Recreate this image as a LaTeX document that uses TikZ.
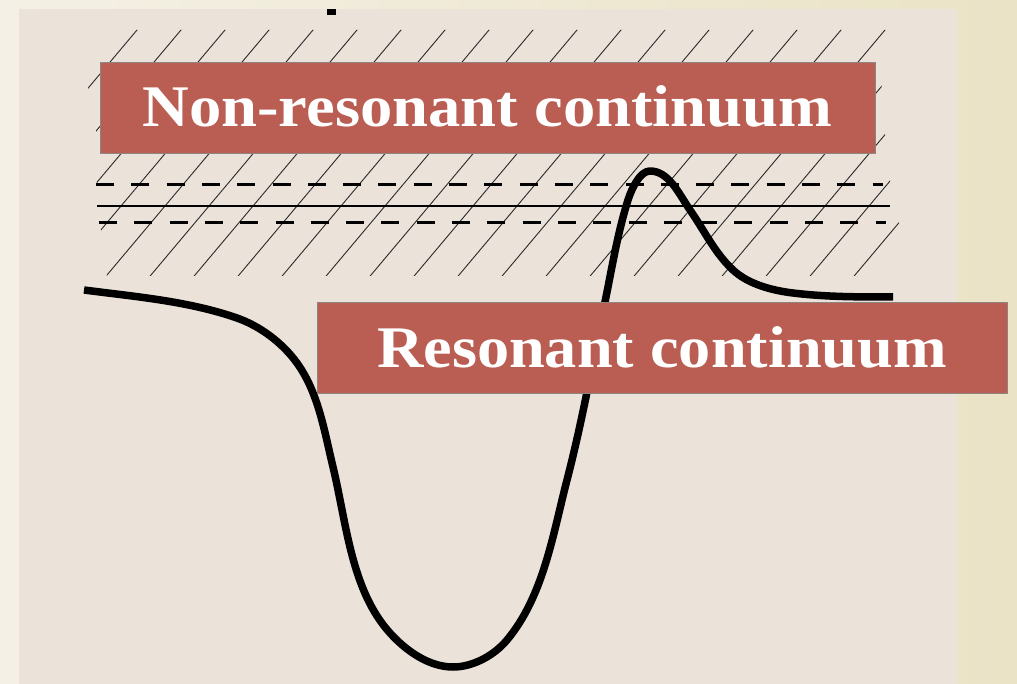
\documentclass[tikz,border=0pt]{standalone}
\usepackage{fontspec}
\setmainfont{Liberation Serif}
\usepackage{graphicx}
\definecolor{outerbg}{HTML}{F4F0E5}
\definecolor{outerright}{HTML}{EAE3C6}
\definecolor{panelbg}{HTML}{EBE2DA}
\definecolor{bannerred}{HTML}{BA5D52}
\definecolor{bannerrim}{HTML}{8E8580}
\definecolor{hatchgray}{HTML}{2A2A2A}
\tikzset{
  banner/.style={rectangle, fill=bannerred, draw=bannerrim, line width=0.8pt,
    inner xsep=0pt, inner ysep=26pt, text height=39pt, text depth=0pt,
    text=white, font=\bfseries\fontsize{59}{59}\selectfont},
  hatchline/.style={draw=hatchgray, line width=0.9pt},
  dashrule/.style={draw=black, line width=3pt, dash pattern=on 18pt off 17.3pt},
  solidrule/.style={draw=black, line width=2.5pt},
  curveline/.style={draw=black, line width=7.5pt, line join=round}
}
\begin{document}
\begin{tikzpicture}[x=1pt,y=-1pt]
\useasboundingbox (0,0) rectangle (1017,684);
% background
\shade[left color=outerbg, right color=outerright] (0,0) rectangle (1017,684);
\fill[panelbg] (19,9) rectangle (957,684);
% small mark at the top
\fill[black] (327,9) rectangle (336,15);
% hatching
\begin{scope}
  \clip (95,30) -- (888,30) -- (881,92) -- (886,145) -- (891,188) -- (899,223) -- (895,276)
        -- (107,276) -- (97,200) -- (96,130) -- (87,82) -- cycle;
  \foreach \k in {-11,...,14} {
    \draw[hatchline] ({327+44*\k-5/1.19},280) -- ({327+44*\k+206+5/1.19},25);
  }
\end{scope}
% level lines
\coordinate (dua) at (96,185);
\coordinate (dub) at (883,185);
\coordinate (sla) at (97,206);
\coordinate (slb) at (890,206);
\coordinate (dla) at (99,223);
\coordinate (dlb) at (886,223);
\draw[dashrule] (dua) -- (dub);
\draw[solidrule] (sla) -- (slb);
\draw[dashrule] (dla) -- (dlb);
% curve
\draw[curveline] (84,290)
  .. controls (136,296.8) and (188,301) .. (237,318)
  .. controls (260.5,326.3) and (282.5,343) .. (297,363)
  .. controls (318.5,393) and (324.3,431) .. (333,467)
  .. controls (346.6,523.4) and (351.1,590.1) .. (390,633)
  .. controls (406,650.8) and (429,667) .. (453,667)
  .. controls (473,667) and (494.2,655.4) .. (507,640)
  .. controls (543.5,596.1) and (552.7,535.2) .. (567,480)
  .. controls (582.3,421) and (592.8,361.8) .. (605,302)
  .. controls (612,267.7) and (617.5,233.3) .. (628,200)
  .. controls (631.6,188.6) and (640,171) .. (650,171)
  .. controls (669,171) and (679.2,194.4) .. (690,210)
  .. controls (704.3,230.5) and (714.7,253) .. (733,270)
  .. controls (748.3,284.3) and (772.2,290.5) .. (793,293)
  .. controls (825.7,297) and (860,297) .. (893,297);
% banners
\node[banner, minimum width=775pt] (nonres) at (487.5,107.5)
  {\scalebox{1.095}[1]{Non-resonant continuum}};
\node[banner, minimum width=690pt] (res) at (662,347.5)
  {\scalebox{1.09}[1]{Resonant continuum}};
\end{tikzpicture}
\end{document}
